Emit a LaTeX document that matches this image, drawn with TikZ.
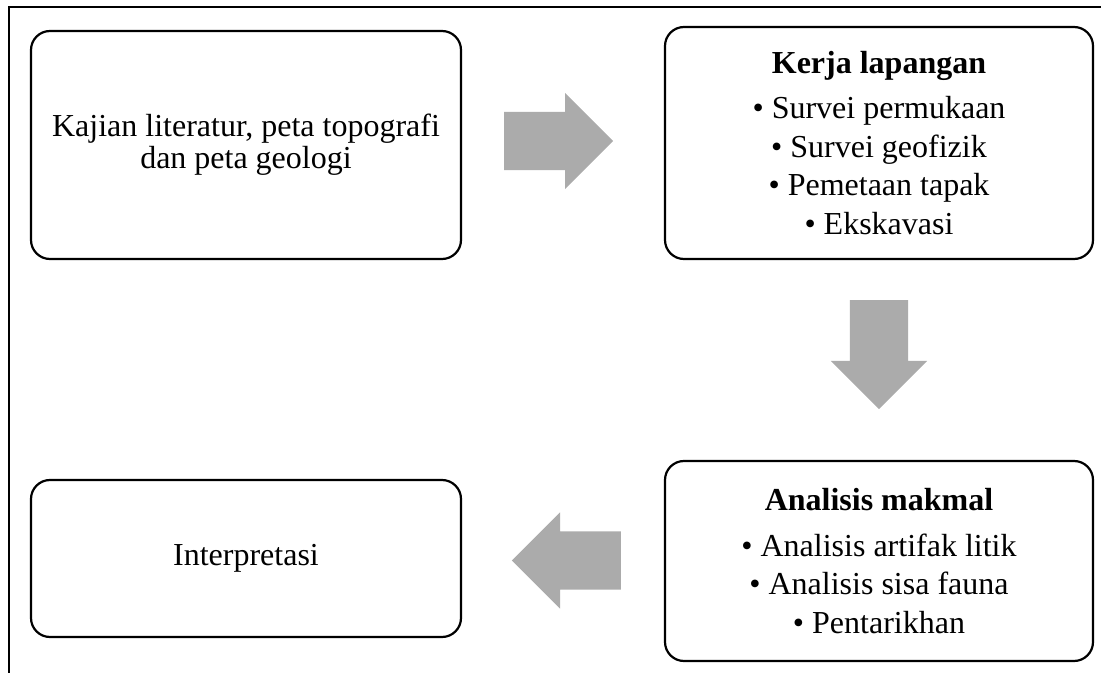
\documentclass[tikz,border=0pt]{standalone}
\usepackage{fontspec}
\setmainfont{Liberation Serif}
\usetikzlibrary{positioning,shapes.arrows}
\tikzset {
    style A/.style={
        draw=black,
        line width=2.2pt,
        rectangle, % box with round corners
        rounded corners=19pt,
        align=center,
        inner sep=0pt,
    },
    style B/.style={
        fill=black!33,
        draw=none,
        single arrow, % block arrow
        single arrow head extend=19pt,
        single arrow tip angle=90,
        inner xsep=0pt,
        inner ysep=29pt,
        minimum height=109pt,
    },
}
\begin{document}
\begin{tikzpicture}[x=1pt,y=1pt,font=\fontsize{32}{38.5}\selectfont]
        \useasboundingbox (0,0) rectangle (1101,673);

        \draw[line width=1.5pt] (1101,666) -- (9,666) -- (9,0);

        \node[style A, minimum width=430pt, minimum height=228pt, font=\fontsize{32}{32}\selectfont] (lit) at (246,528)
            {Kajian literatur, peta topografi\\dan peta geologi};
        \node[style A, minimum width=428pt, minimum height=232pt] (kerja) at (879,530)
            {\textbf{Kerja lapangan}\\[6.5pt]
             • Survei permukaan\\
             • Survei geofizik\\
             • Pemetaan tapak\\
             • Ekskavasi};
        \node[style A, minimum width=428pt, minimum height=200pt] (makmal) at (879,112)
            {\textbf{Analisis makmal}\\[7pt]
             • Analisis artifak litik\\
             • Analisis sisa fauna\\
             • Pentarikhan};
        \node[style A, minimum width=430pt, minimum height=157pt] (interp) at (246,114.5)
            {Interpretasi};

        \node[style B, anchor=tail] (a1) at (504,532) {};
        \node[style B, anchor=tail, rotate=-90] (a2) at (879,373) {};
        \node[style B, anchor=tail, rotate=180] (a3) at (621,112.5) {};

    \end{tikzpicture}
\end{document}
